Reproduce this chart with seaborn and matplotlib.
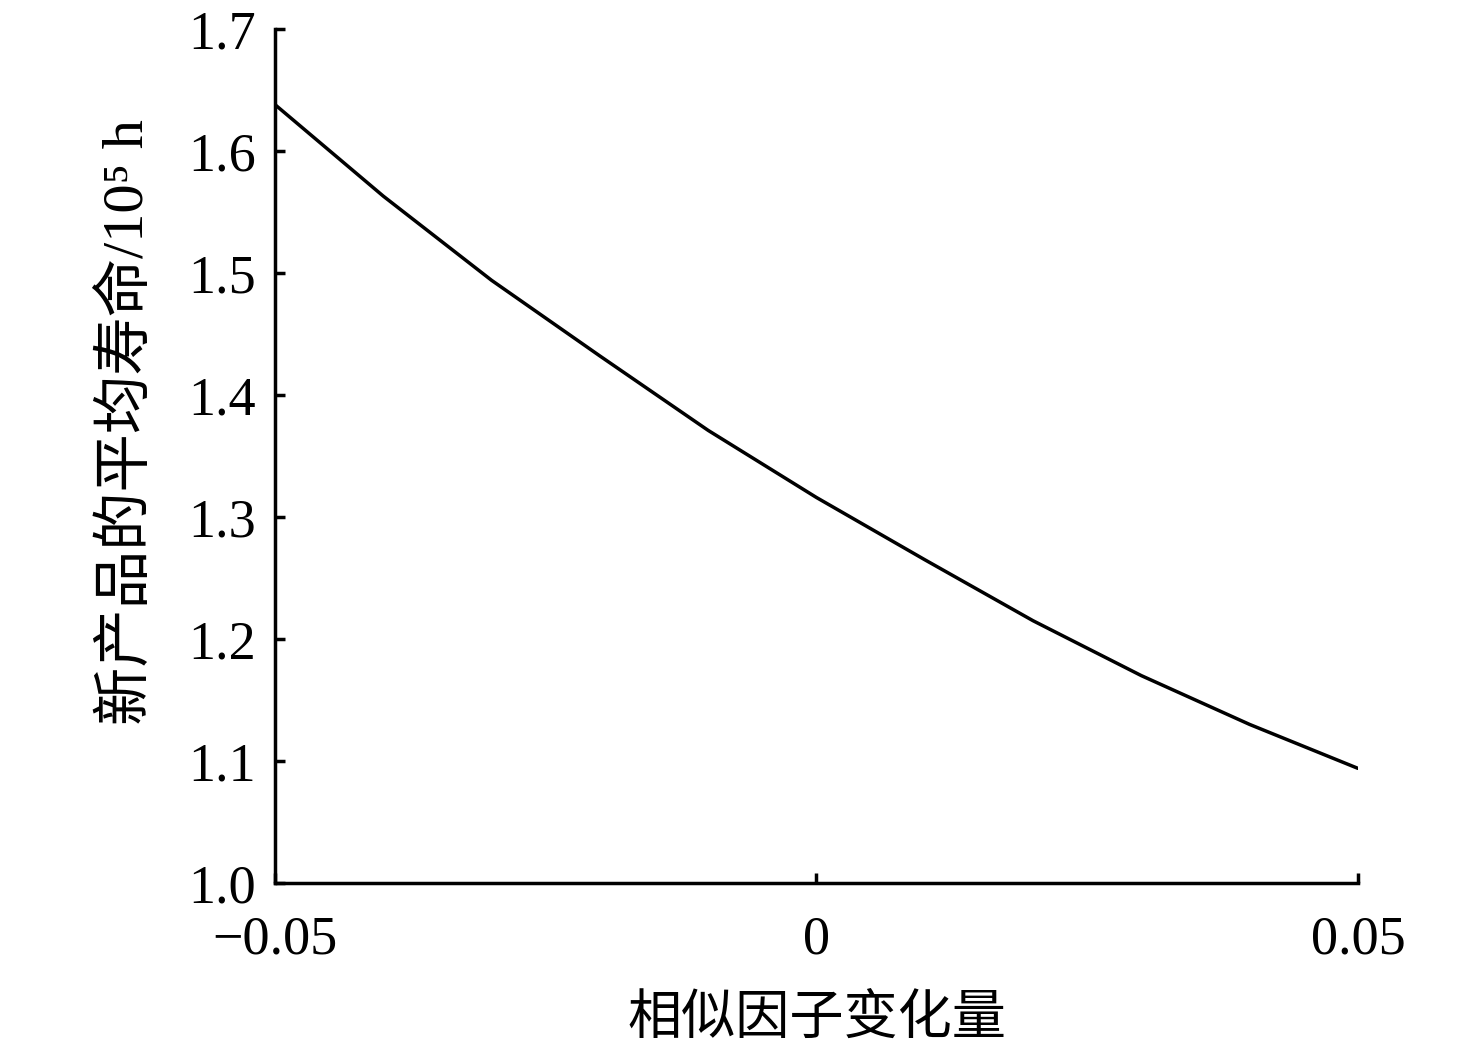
import matplotlib
matplotlib.use("Agg")
import matplotlib.pyplot as plt
import seaborn as sns
import pandas as pd

# data
factor_change = [-0.05, -0.04, -0.03, -0.02, -0.01, 0.0, 0.01, 0.02, 0.03, 0.04, 0.05]
mean_life = [1.638, 1.563, 1.494, 1.432, 1.371, 1.316, 1.265, 1.215, 1.170, 1.130, 1.094]
x_ticks = [-0.05, 0.0, 0.05]
x_tick_labels = ["\u22120.05", "0", "0.05"]
y_ticks = [1.0, 1.1, 1.2, 1.3, 1.4, 1.5, 1.6, 1.7]
y_tick_labels = ["1.0", "1.1", "1.2", "1.3", "1.4", "1.5", "1.6", "1.7"]
x_label = "相似因子变化量"
y_label = "新产品的平均寿命/10\u2075 h"

sns.set_theme(style="ticks")
fam = ["Liberation Serif", "Noto Sans CJK SC", "DejaVu Sans"]
plt.rcParams["font.family"] = fam

df = pd.DataFrame({"x": factor_change, "y": mean_life})

fig = plt.figure(figsize=(14.76, 10.53), dpi=100)
ax = fig.add_axes([0.1863, 0.1614, 0.9200 - 0.1863, 0.9725 - 0.1614])
sns.lineplot(data=df, x="x", y="y", ax=ax, color="black", linewidth=2.5)

ax.set_xlim(-0.05, 0.05)
ax.set_ylim(1.0, 1.7)
ax.set_xticks(x_ticks)
ax.set_xticklabels(x_tick_labels)
ax.set_yticks(y_ticks)
ax.set_yticklabels(y_tick_labels)
for s in ["top", "right"]:
    ax.spines[s].set_visible(False)
for s in ["left", "bottom"]:
    ax.spines[s].set_linewidth(2.5)
    ax.spines[s].set_color("black")
ax.tick_params(axis="both", direction="in", length=7, width=2.5, labelsize=39, colors="black")
ax.tick_params(axis="x", pad=23)
ax.tick_params(axis="y", pad=14)
for lab in ax.get_xticklabels() + ax.get_yticklabels():
    lab.set_family(fam)

ax.set_xlabel(x_label, fontsize=39, family=["Noto Sans CJK SC", "Liberation Serif"], labelpad=18, color="black")
ax.set_ylabel(y_label, fontsize=42, family=fam, labelpad=24, color="black", y=0.54)

fig.savefig("out.png", dpi=100, facecolor="white")
